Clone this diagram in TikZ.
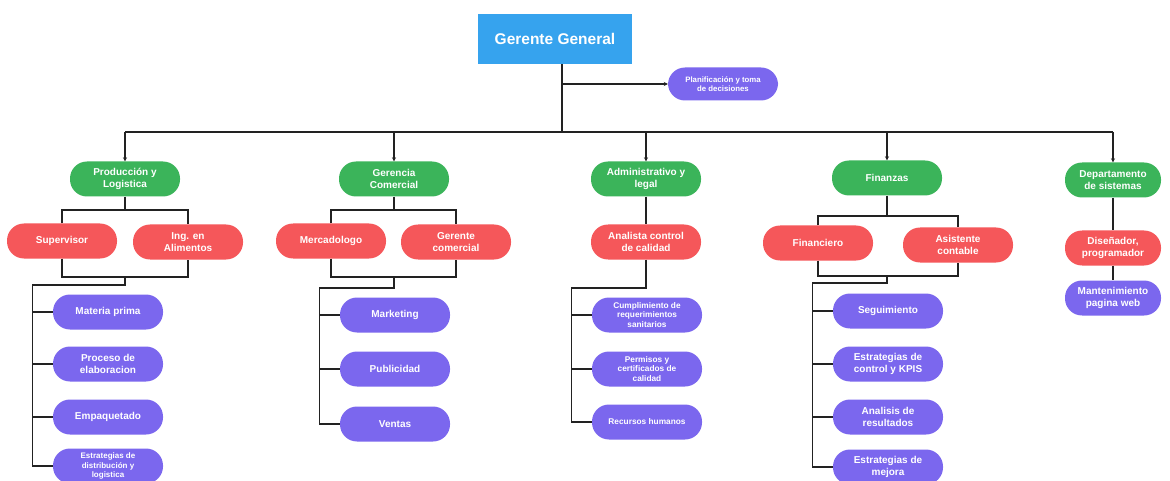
\documentclass[tikz,border=0pt]{standalone}
\usepackage{fontspec}
\setmainfont{Liberation Sans}
\usetikzlibrary{arrows.meta}
\definecolor{cblue}{HTML}{36A3EE}
\definecolor{cgreen}{HTML}{3BB45A}
\definecolor{cred}{HTML}{F5575A}
\definecolor{cpurple}{HTML}{7B67EE}
\definecolor{cline}{HTML}{222222}
\tikzset{
  pill/.style={rectangle, rounded corners=17pt, minimum width=110pt, minimum height=35pt,
    text=white, font=\bfseries\fontsize{10}{12.3}\selectfont, align=center, inner sep=1pt},
  gnode/.style={pill, fill=cgreen},
  rnode/.style={pill, fill=cred},
  pnode/.style={pill, fill=cpurple},
  smalltxt/.style={font=\bfseries\fontsize{8.3}{9.6}\selectfont},
  conn/.style={draw=cline, line width=1.2pt},
  arr/.style={conn, -{Stealth[length=4pt,width=4pt]}},
}
\begin{document}
\begin{tikzpicture}[x=1pt,y=-1pt]
\useasboundingbox (0,0) rectangle (1170,481);
\fill[white] (0,0) rectangle (1170,481);

% top
\node[rectangle, fill=cblue, minimum width=154pt, minimum height=50pt, text=white,
  font=\bfseries\fontsize{15.5}{18}\selectfont] (gg) at (555,39) {Gerente General};
\node[pnode, minimum height=33pt, font=\bfseries\fontsize{7.8}{9.3}\selectfont] (plan) at (723,84) {Planificación y toma\\de decisiones};

% green
\node[gnode] (prod) at (125,179) {Producción y\\Logistica};
\node[gnode] (com) at (394,179) {Gerencia\\Comercial};
\node[gnode] (adm) at (646,179) {Administrativo y\\legal};
\node[gnode] (fin) at (887,178) {Finanzas};
\node[gnode, minimum width=96pt] (dep) at (1113,180) {Departamento\\de sistemas};

% red
\node[rnode] (sup) at (62,241) {Supervisor};
\node[rnode] (ing) at (188,242) {Ing. en\\Alimentos};
\node[rnode] (mer) at (331,241) {Mercadologo};
\node[rnode] (gco) at (456,242) {Gerente\\comercial};
\node[rnode] (ana) at (646,242) {Analista control\\de calidad};
\node[rnode] (fnc) at (818,243) {Financiero};
\node[rnode] (asi) at (958,245) {Asistente\\contable};
\node[rnode, minimum width=96pt] (dis) at (1113,248) {Diseñador,\\programador};

% purple
\node[pnode] (mp) at (108,312) {Materia prima};
\node[pnode] (pe) at (108,364) {Proceso de\\elaboracion};
\node[pnode] (emp) at (108,417) {Empaquetado};
\node[pnode, font=\bfseries\fontsize{8}{9.2}\selectfont] (edl) at (108,466) {Estrategias de\\distribución y\\logistica};

\node[pnode] (mkt) at (395,315) {Marketing};
\node[pnode] (pub) at (395,369) {Publicidad};
\node[pnode] (ven) at (395,424) {Ventas};

\node[pnode, smalltxt] (cum) at (647,315) {Cumplimiento de\\requerimientos\\sanitarios};
\node[pnode, smalltxt] (per) at (647,369) {Permisos y\\certificados de\\calidad};
\node[pnode, smalltxt] (rh) at (647,422) {Recursos humanos};

\node[pnode] (seg) at (888,311) {Seguimiento};
\node[pnode] (eck) at (888,364) {Estrategias de\\control y KPIS};
\node[pnode] (ars) at (888,417) {Analisis de\\resultados};
\node[pnode] (em) at (888,467) {Estrategias de\\mejora};

\node[pnode, minimum width=96pt] (man) at (1113,298) {Mantenimiento\\pagina web};

% top connectors
\coordinate (j0) at (562,132);
\coordinate (j1) at (562,84);
\coordinate (busL) at (125,132);
\coordinate (busR) at (1113,132);
\draw[conn] (gg.south -| j0) -- (j0);
\draw[arr] (j1) -- (plan.west);
\draw[conn] (busL) -- (busR);
\draw[arr] (busL) -- (prod.north);
\draw[arr] (com.north |- busL) -- (com.north);
\draw[arr] (adm.north |- busL) -- (adm.north);
\draw[arr] (fin.north |- busL) -- (fin.north);
\draw[arr] (busR) -- (dep.north);

% produccion
\coordinate (pa) at (125,210);
\coordinate (pb) at (125,277);
\coordinate (pc) at (125,285);
\draw[conn] (prod.south) -- (pa);
\draw[conn] (sup.north) |- (pa) -| (ing.north);
\draw[conn] (sup.south) |- (pb) -| (ing.south);
\draw[conn] (pb) -- (pc) -| ([xshift=-20pt]edl.west) -- (edl.west);
\foreach \n in {mp,pe,emp} \draw[conn] ([xshift=-20pt]\n.west) -- (\n.west);

% comercial
\coordinate (ca) at (394,210);
\coordinate (cb) at (394,277);
\coordinate (cc) at (394,288);
\draw[conn] (com.south) -- (ca);
\draw[conn] (mer.north) |- (ca) -| (gco.north);
\draw[conn] (mer.south) |- (cb) -| (gco.south);
\draw[conn] (cb) -- (cc) -| ([xshift=-20pt]ven.west) -- (ven.west);
\foreach \n in {mkt,pub} \draw[conn] ([xshift=-20pt]\n.west) -- (\n.west);

% administrativo
\coordinate (ac) at (646,288);
\draw[conn] (adm.south) -- (ana.north);
\draw[conn] (ana.south) -- (ac) -| ([xshift=-20pt]rh.west) -- (rh.west);
\foreach \n in {cum,per} \draw[conn] ([xshift=-20pt]\n.west) -- (\n.west);

% finanzas
\coordinate (fa) at (887,216);
\coordinate (fb) at (887,276);
\coordinate (fc) at (887,283);
\draw[conn] (fin.south) -- (fa);
\draw[conn] (fnc.north) |- (fa) -| (asi.north);
\draw[conn] (fnc.south) |- (fb) -| (asi.south);
\draw[conn] (fb) -- (fc) -| ([xshift=-20pt]em.west) -- (em.west);
\foreach \n in {seg,eck,ars} \draw[conn] ([xshift=-20pt]\n.west) -- (\n.west);

% departamento
\draw[conn] (dep.south) -- (dis.north);
\draw[conn] (dis.south) -- (man.north);
\end{tikzpicture}
\end{document}
